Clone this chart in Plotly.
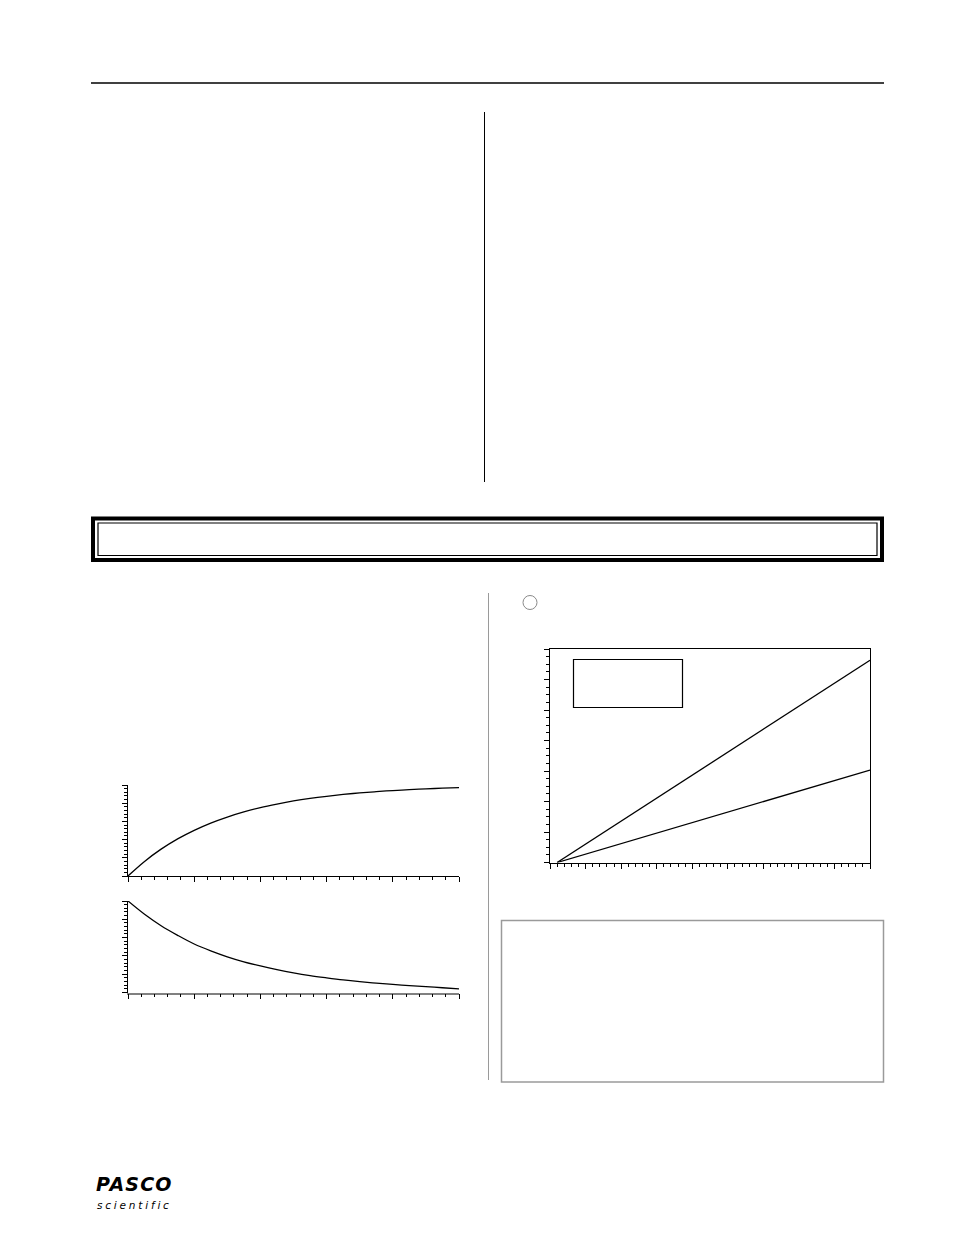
import plotly.graph_objects as go

# ---------------- data ----------------
# charging curve (top-left panel)
charge_t = [0, 0.25, 0.5, 0.75, 1.0, 1.25, 1.5, 1.75, 2.0, 2.25, 2.5, 2.75,
            3.0, 3.25, 3.5, 3.75, 4.0, 4.25, 4.5, 4.75, 5.0]
charge_v = [0.0, 0.16, 0.295, 0.408, 0.502, 0.582, 0.648, 0.704, 0.752, 0.791,
            0.825, 0.853, 0.876, 0.896, 0.913, 0.927, 0.939, 0.949, 0.958, 0.965, 0.972]
# discharging curve (bottom-left panel)
discharge_t = charge_t
discharge_v = [1.0, 0.855, 0.73, 0.625, 0.53, 0.455, 0.39, 0.335, 0.29, 0.25,
               0.215, 0.185, 0.16, 0.137, 0.118, 0.102, 0.088, 0.076, 0.064, 0.052, 0.04]
# straight lines (right panel)
line_x = [0.2, 9.0]
line_upper = [0.0, 6.63]
line_lower = [0.0, 3.03]

W, H = 954, 1235


def px(x):
    return x / W


def py(y):
    return 1 - y / H


fig = go.Figure()
fig.add_trace(go.Scatter(x=charge_t, y=charge_v, mode="lines", xaxis="x", yaxis="y",
                         line=dict(color="black", width=1.3, shape="spline"), showlegend=False))
fig.add_trace(go.Scatter(x=discharge_t, y=discharge_v, mode="lines", xaxis="x2", yaxis="y2",
                         line=dict(color="black", width=1.3, shape="spline"), showlegend=False))
fig.add_trace(go.Scatter(x=line_x, y=line_upper, mode="lines", xaxis="x3", yaxis="y3",
                         line=dict(color="black", width=1.3), showlegend=False))
fig.add_trace(go.Scatter(x=line_x, y=line_lower, mode="lines", xaxis="x3", yaxis="y3",
                         line=dict(color="black", width=1.3), showlegend=False))


def ax(domain, rng, dtick, mdtick, anchor, linecolor="black", linewidth=1, mirror=False):
    return dict(domain=domain, range=rng, anchor=anchor, showline=True, linecolor=linecolor,
                linewidth=linewidth, mirror=mirror, ticks="outside", ticklen=5, tickwidth=1,
                tickcolor="black", tick0=0, dtick=dtick, showticklabels=False,
                showgrid=False, zeroline=False, fixedrange=True,
                minor=dict(dtick=mdtick, tick0=0, ticks="outside", ticklen=3,
                           tickwidth=1, tickcolor="black", showgrid=False))


fig.update_layout(
    width=W, height=H, margin=dict(l=0, r=0, t=0, b=0),
    paper_bgcolor="white", plot_bgcolor="white", showlegend=False,
    xaxis=ax([px(128), px(459)], [0, 5], 1, 0.2, "y"),
    yaxis=ax([py(876), py(785)], [0, 1], 0.2, 0.04, "x"),
    xaxis2=ax([px(128), px(459)], [0, 5], 1, 0.2, "y2", linecolor="#808080", linewidth=1.6),
    yaxis2=ax([py(992.5), py(901)], [0, 1], 0.2, 0.04, "x2"),
    xaxis3=ax([px(550), px(870)], [0, 9], 1, 0.2, "y3", mirror=True),
    yaxis3=ax([py(862.5), py(649)], [0, 7], 1, 0.25, "x3", mirror=True),
)

shapes = []
# header rule
shapes.append(dict(type="line", xref="paper", yref="paper", x0=px(91), x1=px(884),
                   y0=py(83), y1=py(83), line=dict(color="black", width=1.5)))
# upper column divider
shapes.append(dict(type="line", xref="paper", yref="paper", x0=px(484.5), x1=px(484.5),
                   y0=py(112), y1=py(482), line=dict(color="black", width=1)))
# title band: thick outer frame + thin inner frame
shapes.append(dict(type="rect", xref="paper", yref="paper", x0=px(93), x1=px(882),
                   y0=py(518.5), y1=py(560), line=dict(color="black", width=4)))
shapes.append(dict(type="rect", xref="paper", yref="paper", x0=px(98), x1=px(877),
                   y0=py(523), y1=py(555.5), line=dict(color="black", width=1.2)))
# lower column divider (gray)
shapes.append(dict(type="line", xref="paper", yref="paper", x0=px(488.5), x1=px(488.5),
                   y0=py(593), y1=py(1080), line=dict(color="#9a9a9a", width=1)))
# small circle
shapes.append(dict(type="circle", xref="paper", yref="paper", x0=px(523), x1=px(537),
                   y0=py(595.5), y1=py(609.5), line=dict(color="#8a8a8a", width=1)))
# legend box inside the right chart
shapes.append(dict(type="rect", xref="paper", yref="paper", x0=px(573.5), x1=px(682.5),
                   y0=py(659.5), y1=py(707.5), line=dict(color="black", width=1.2)))
# note box lower right
shapes.append(dict(type="rect", xref="paper", yref="paper", x0=px(501.5), x1=px(883.5),
                   y0=py(920.5), y1=py(1082), line=dict(color="#9a9a9a", width=1.5)))
fig.update_layout(shapes=shapes)

fig.add_annotation(xref="paper", yref="paper", x=px(95), y=py(1172), xanchor="left",
                   yanchor="top", showarrow=False, borderpad=0,
                   text="<b><i><span style='letter-spacing:1.2px'>PASCO</span></i></b>",
                   font=dict(family="DejaVu Sans", size=19, color="black"))
fig.add_annotation(xref="paper", yref="paper", x=px(96), y=py(1198), xanchor="left",
                   yanchor="top", showarrow=False, borderpad=0,
                   text="<i><span style='letter-spacing:2.8px'>scientific</span></i>",
                   font=dict(family="DejaVu Sans", size=10.5, color="black"))

fig.write_html("out.html", config={"displayModeBar": False},
               post_script="document.body.style.margin='0';")
